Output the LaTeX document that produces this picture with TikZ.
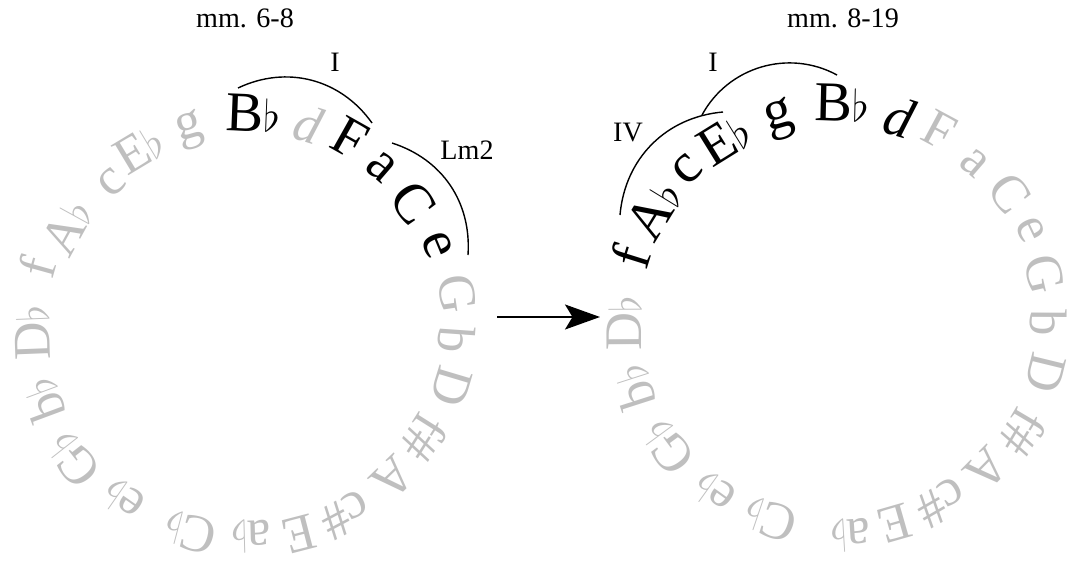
\documentclass[tikz,border=0pt]{standalone}
\usepackage{fontspec}
\setmainfont{Liberation Serif}
\usetikzlibrary{arrows.meta}
\tikzset{
  keynode/.style = {inner sep=0pt, font=\fontsize{30}{30}\selectfont},
  key_hi/.style = {keynode, black, font=\fontsize{32}{32}\selectfont},% tonality in use
  key_lo/.style = {keynode, black!25},% tonality not in use
  func_lbl/.style = {inner sep=0pt, font=\fontsize{16}{16}\selectfont},% I, IV, Lm2
  bar_lbl/.style = {inner sep=0pt, font=\fontsize{16}{16}\selectfont},% measures
  func_arc/.style = {line width=0.8pt}
}

\begin{document}
\begin{tikzpicture}
\useasboundingbox (0,0) rectangle (21.34,11.22);
\coordinate (L) at (4.9,4.72);
\coordinate (R) at (16.74,4.78);
% left circle, mm. 6-8
\foreach \a/\r/\t/\s [count=\i] in {87.8/4.24/B$\flat$/key_hi, 72.5/4.20/\textit{d}/key_lo,
    60.7/4.29/F/key_hi, 49.1/4.18/a/key_hi, 36/4.15/C/key_hi, 22.6/4.16/e/key_hi,
    8.5/4.29/G/key_lo, -4/4.25/b/key_lo, -16.6/4.32/D/key_lo, -32.2/4.24/f\#/key_lo,
    -46/4.27/A/key_lo, -62/4.30/c\#/key_lo, -75.5/4.32/E/key_lo, -88.5/4.24/a$\flat$/key_lo,
    -104.8/4.30/C$\flat$/key_lo, -124.9/4.27/e$\flat$/key_lo, -141.9/4.37/G$\flat$/key_lo,
    -159.6/4.31/b$\flat$/key_lo, -177.8/4.26/D$\flat$/key_lo, 164.4/4.32/f/key_lo,
    151.2/4.06/A$\flat$/key_lo, 132.9/3.90/c/key_lo, 121/4.10/E$\flat$/key_lo, 105.8/4.05/g/key_lo}
  \node[\s, rotate=\a-90] (l\i) at ([shift={(\a:\r)}]L) {\t};
% right circle, mm. 8-19
\foreach \a/\r/\t/\s [count=\i] in {88.7/4.38/B$\flat$/key_hi, 73/4.29/\textit{d}/key_hi,
    61.8/4.36/F/key_lo, 49.2/4.20/a/key_lo, 36.7/4.32/C/key_lo, 25.5/4.28/e/key_lo,
    13.1/4.26/G/key_lo, -0.3/4.22/b/key_lo, -13.7/4.30/D/key_lo, -30.7/4.33/f\#/key_lo,
    -44.5/4.20/A/key_lo, -60/4.18/c\#/key_lo, -74/4.20/E/key_lo, -86.5/4.28/a$\flat$/key_lo,
    -108.7/4.18/C$\flat$/key_lo, -125.7/4.21/e$\flat$/key_lo, -143.7/4.22/G$\flat$/key_lo,
    -162.2/4.26/b$\flat$/key_lo, -179.7/4.26/D$\flat$/key_lo, 162.6/4.34/f/key_hi,
    148.5/4.29/A$\flat$/key_hi, 134.6/4.27/c/key_hi, 121.8/4.29/E$\flat$/key_hi, 105.8/4.20/g/key_hi}
  \node[\s, rotate=\a-90] (r\i) at ([shift={(\a:\r)}]R) {\t};

\node[bar_lbl] (barsL) at (4.9,10.86) {mm. 6-8};
\node[bar_lbl] (barsR) at (16.86,10.86) {mm. 8-19};

% arcs over the keys
\coordinate (iL1) at (4.76,9.46);
\coordinate (iL2) at (7.44,8.76);
\coordinate (lmL1) at (7.84,8.36);
\coordinate (lmL2) at (9.36,6.12);
\coordinate (ivR1) at (12.4,6.92);
\coordinate (ivR2) at (14.46,8.98);
\coordinate (iR1) at (14.04,8.92);
\coordinate (iR2) at (16.74,9.72);
\draw[func_arc] (iL1) to[bend left=40] (iL2);
\draw[func_arc] (lmL1) to[bend left=38] (lmL2);
\draw[func_arc] (ivR1) to[bend left=40] (ivR2);
\draw[func_arc] (iR1) to[bend left=45] (iR2);
\node[func_lbl] (fI1) at (6.7,9.98) {I};
\node[func_lbl] (fLm) at (9.34,8.22) {Lm2};
\node[func_lbl] (fI2) at (14.26,9.98) {I};
\node[func_lbl] (fIV) at (12.56,8.56) {IV};

\coordinate (go1) at (9.94,4.88);
\coordinate (go2) at (12.0,4.88);
\draw[line width=1.1pt, -{Stealth[length=7mm,width=5mm,inset=1.5mm]}] (go1) -- (go2);
\end{tikzpicture}
\end{document}
